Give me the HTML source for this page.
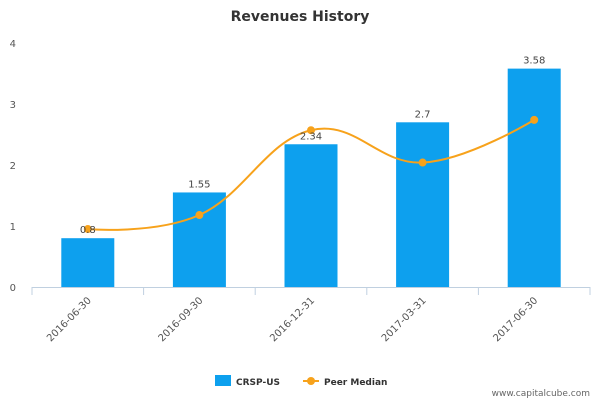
<!DOCTYPE html>
<html><head><meta charset="utf-8"><style>
body{margin:0;background:#fff;font-family:"Liberation Sans","DejaVu Sans",sans-serif}
svg text{font-family:"DejaVu Sans","Liberation Sans",sans-serif}
</style></head><body>
<svg id="c" width="600" height="400" viewBox="0 0 600 400" xmlns="http://www.w3.org/2000/svg">
<text x="300" y="21" text-anchor="middle" font-size="14" font-weight="bold" fill="#333">Revenues History</text>
<g id="grid"></g><g id="bars"></g><g id="line"></g><g id="labels"></g>
<g>
<rect x="215" y="375" width="16" height="11" fill="#0da0ee"/>
<text x="236" y="385" font-size="9" font-weight="bold" fill="#333">CRSP-US</text>
<line x1="303" y1="381" x2="319" y2="381" stroke="#f7a21b" stroke-width="2"/>
<circle cx="311" cy="381" r="4" fill="#f7a21b"/>
<text x="324" y="385" font-size="9" font-weight="bold" fill="#333">Peer Median</text>
</g>
<text x="590" y="396" text-anchor="end" font-size="9" fill="#666">www.capitalcube.com</text>
</svg>
<script>
const categories=["2016-06-30","2016-09-30","2016-12-31","2017-03-31","2017-06-30"];
const revenues=[0.8,1.55,2.34,2.7,3.58];
const peerMedian=[0.95,1.18,2.57,2.04,2.74];
const yTicks=[0,1,2,3,4];
const NS="http://www.w3.org/2000/svg";
const L=32,R=590,T=43,B=287,yMax=4;
const bw=(R-L)/categories.length;
const x=i=>L+bw*(i+0.5);
const y=v=>B-(v/yMax)*(B-T);
function mk(t,a,p){const e=document.createElementNS(NS,t);for(const k in a)e.setAttribute(k,a[k]);p.appendChild(e);return e;}
const grid=document.getElementById('grid'),bars=document.getElementById('bars'),line=document.getElementById('line'),labels=document.getElementById('labels');
yTicks.forEach(t=>{const tx=mk('text',{x:16,y:y(t)+4,'font-size':10,fill:'#555','text-anchor':'end'},grid);tx.textContent=t;

});
const ax=mk('line',{x1:L,y1:B+0.5,x2:R,y2:B+0.5,stroke:'#c0d0e0'},grid);


for(let i=0;i<=categories.length;i++){const tk=mk('line',{x1:L+bw*i,y1:B,x2:L+bw*i,y2:B+8,stroke:'#c0d0e0'},grid);

}
categories.forEach((c,i)=>{const tx=mk('text',{x:x(i)+4,y:B+14,'font-size':10,fill:'#555','text-anchor':'end',transform:`rotate(-45 ${x(i)+4} ${B+14})`},grid);tx.textContent=c;

});
revenues.forEach((v,i)=>{const r=mk('rect',{x:x(i)-26.5,y:y(v),width:53,height:B-y(v),fill:'#0da0ee'},bars);


const t=mk('text',{x:x(i),y:y(v)-5,'font-size':10,fill:'#444','text-anchor':'middle'},labels);t.textContent=v;

});
// spline
const pts=peerMedian.map((v,i)=>[x(i),y(v)]);
let d=`M${pts[0][0]},${pts[0][1]}`;
const sm=1.5;
function ctrl(i){if(i===0||i===pts.length-1)return [pts[i],pts[i]];const p=pts[i-1],c=pts[i],n=pts[i+1];
let lx=(sm*c[0]+p[0])/(sm+1),ly=(sm*c[1]+p[1])/(sm+1),rx=(sm*c[0]+n[0])/(sm+1),ry=(sm*c[1]+n[1])/(sm+1);
const k=(ry-ly)/(rx-lx||1);let dly=ly-(c[1]-k*(c[0]-lx)),dry=ry-(c[1]+k*(rx-c[0]));
ly-=dly;ry-=dry;return [[lx,ly],[rx,ry]];}
for(let i=1;i<pts.length;i++){const a=ctrl(i-1)[1],b=ctrl(i)[0];d+=` C${a[0]},${a[1]} ${b[0]},${b[1]} ${pts[i][0]},${pts[i][1]}`;}
const pl=mk('path',{d,fill:'none',stroke:'#f7a21b','stroke-width':2},line);


pts.forEach((p,i)=>{const c=mk('circle',{cx:p[0],cy:p[1],r:4,fill:'#f7a21b'},line);

});
</script>
</body></html>
